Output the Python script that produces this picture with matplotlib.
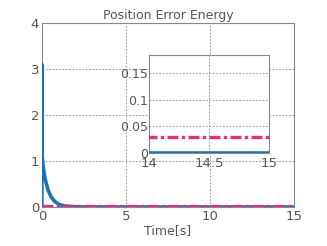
import matplotlib
matplotlib.use("Agg")
import matplotlib.pyplot as plt

# Data
t_blue = [0.0, 0.0, 0.02, 0.08, 0.2, 0.37, 0.55, 0.77, 1.0, 1.37, 1.8, 2.5, 4.0, 8.0, 15.0]
e_blue = [0.0, 3.1, 1.1, 0.87, 0.6, 0.37, 0.22, 0.12, 0.06, 0.02, 0.008, 0.002, 0.0, 0.0, 0.0]
t_pink = [0.0, 15.0]
e_pink = [0.03, 0.03]

main_xticks = [0, 5, 10, 15]
main_yticks = [0, 1, 2, 3, 4]
inset_xticks = [14, 14.5, 15]
inset_yticks = [0, 0.05, 0.1, 0.15]

blue = "#1a73b8"
pink = "#e0307f"
txt = "#555555"
dashdot = (0, (3.3, 1.0, 1.0, 1.0))

plt.rcParams['font.family'] = ['DejaVu Sans']

fig = plt.figure(figsize=(3.27, 2.46), dpi=100)
ax = fig.add_axes([0.128, 0.1585, 0.771, 0.748])
ax.plot(t_blue, e_blue, color=blue, lw=2.6, zorder=3)
ax.plot(t_pink, e_pink, color=pink, lw=2.4, ls=dashdot, zorder=4)
ax.set_xlim(0, 15)
ax.set_ylim(0, 4)
ax.set_xticks(main_xticks)
ax.set_yticks(main_yticks)
ax.set_xticklabels([str(v) for v in main_xticks])
ax.set_yticklabels([str(v) for v in main_yticks])
ax.grid(True, ls=(0, (2, 2)), color="#888888", lw=0.6)
ax.set_title("Position Error Energy", fontsize=9, color=txt, pad=3)
ax.set_xlabel("Time[s]", fontsize=9, color=txt, labelpad=1)
for s in ax.spines.values():
    s.set_color("#888888")
    s.set_linewidth(0.8)
ax.tick_params(length=0, labelsize=9.5, colors=txt, pad=2)

ins = fig.add_axes([0.456, 0.378, 0.367, 0.398])
ins.plot(t_blue, e_blue, color=blue, lw=2.6, zorder=3)
ins.plot(t_pink, e_pink, color=pink, lw=2.4, ls=dashdot, zorder=4)
ins.set_xlim(14, 15)
ins.set_ylim(0, 0.183)
ins.set_xticks(inset_xticks)
ins.set_yticks(inset_yticks)
ins.set_xticklabels(["14", "14.5", "15"])
ins.set_yticklabels(["0", "0.05", "0.1", "0.15"])
ins.grid(True, ls=(0, (2, 2)), color="#888888", lw=0.6)
for s in ins.spines.values():
    s.set_color("#888888")
    s.set_linewidth(0.8)
ins.tick_params(axis='x', length=0, labelsize=9.5, colors=txt, pad=3)
ins.tick_params(axis='y', length=0, labelsize=9, colors=txt, pad=1)

fig.savefig("out.png", dpi=100)
